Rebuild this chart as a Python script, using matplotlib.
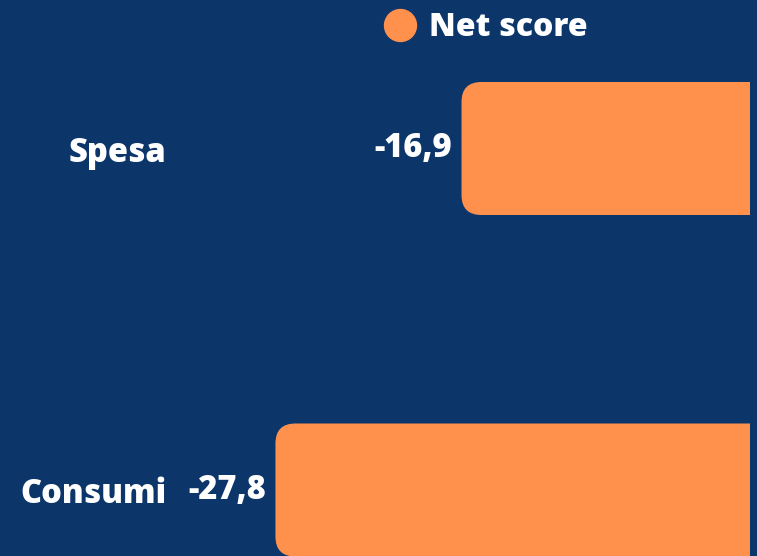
import matplotlib.pyplot as plt
from matplotlib.lines import Line2D
from matplotlib.patches import FancyBboxPatch

# Data
categories = ["Spesa", "Consumi"]
net_score = [-16.9, -27.8]
series_name = "Net score"

bg = "#0c356a"
orange = "#ff914d"

plt.rcParams['font.family'] = ['Open Sans', 'DejaVu Sans']

W, H = 757, 556
fig = plt.figure(figsize=(W / 100, H / 100), dpi=100, facecolor=bg)

# axes from x=180px to x=750px (zero line at right edge)
ax_l, ax_r = 180, 750
ax = fig.add_axes([ax_l / W, 0, (ax_r - ax_l) / W, 1])
ax.set_facecolor(bg)

px_x = 17.07   # pixels per unit on x
px_y = 341.5   # pixels between category rows
ax.set_xlim(-(ax_r - ax_l) / px_x, 0)
ax.set_ylim(1 + (H - 490) / px_y, -148.5 / px_y)

pos = list(range(len(categories)))
bars = ax.barh(pos, net_score, height=133 / px_y, color=orange)

# swap plain bars for rounded ones
r = 20 / px_x
aspect = px_x / px_y
for rect in bars:
    x, y = rect.get_x(), rect.get_y()
    w, h = rect.get_width(), rect.get_height()
    x0, x1 = min(x, x + w), max(x, x + w)
    patch = FancyBboxPatch((x0, y), (x1 - x0) + 2 * r, h,
                           boxstyle=f"round,pad=0,rounding_size={r}",
                           mutation_aspect=aspect, facecolor=orange,
                           edgecolor='none', clip_on=True)
    ax.add_patch(patch)
    rect.set_visible(False)

ax.bar_label(bars, labels=[f"{v:.1f}".replace('.', ',') for v in net_score],
             padding=7, color='white', fontsize=23.5, fontweight='heavy')

ax.set_yticks(pos)
ax.set_yticklabels(categories, color='white', fontsize=23.5, fontweight='heavy')
ax.tick_params(axis='y', length=0, pad=9.5)
ax.set_xticks([])
for s in ax.spines.values():
    s.set_visible(False)

handle = Line2D([], [], marker='o', linestyle='', color=orange, markersize=23)
fig.legend([handle], [series_name], loc='center',
           bbox_to_anchor=(486 / W, 1 - 28 / H), frameon=False,
           handletextpad=0.4, handlelength=1.0,
           prop={'family': 'Open Sans', 'weight': 'heavy', 'size': 23},
           labelcolor='white')

fig.savefig("out.png", dpi=100, facecolor=bg)
